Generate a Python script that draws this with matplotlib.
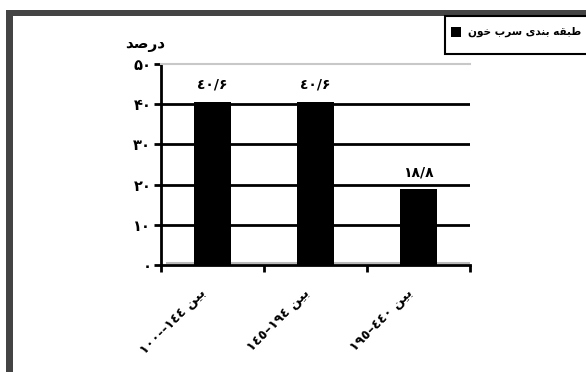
import matplotlib
matplotlib.use("Agg")
import matplotlib.pyplot as plt
from matplotlib.patches import Rectangle

# --- data ---
categories = ["١٠٠--١٤٤", "١٤٥–١٩٤", "١٩٥–٤٤٠"]   # visual order of the ranges
values = [40.6, 40.6, 18.8]
value_labels = ["٤٠/۶", "٤٠/۶", "۱۸/۸"]
yticks = [0, 10, 20, 30, 40, 50]
ytick_labels = ["۰", "۱۰", "۲۰", "۳۰", "۴۰", "۵۰"]
ylabel_text = "درصد"
legend_text = "طبقه بندی سرب خون"
range_word = "بین"

# minimal arabic shaping (matplotlib does not join letters or do RTL)
FORMS = {
    "ب": ("\uFE8F", "\uFE90", "\uFE91", "\uFE92"),
    "خ": ("\uFEA5", "\uFEA6", "\uFEA7", "\uFEA8"),
    "د": ("\uFEA9", "\uFEAA"),
    "ر": ("\uFEAD", "\uFEAE"),
    "س": ("\uFEB1", "\uFEB2", "\uFEB3", "\uFEB4"),
    "ص": ("\uFEB9", "\uFEBA", "\uFEBB", "\uFEBC"),
    "ط": ("\uFEC1", "\uFEC2", "\uFEC3", "\uFEC4"),
    "ق": ("\uFED5", "\uFED6", "\uFED7", "\uFED8"),
    "ن": ("\uFEE5", "\uFEE6", "\uFEE7", "\uFEE8"),
    "ه": ("\uFEE9", "\uFEEA", "\uFEEB", "\uFEEC"),
    "و": ("\uFEED", "\uFEEE"),
    "ی": ("\uFEEF", "\uFEF0", "\uFEF3", "\uFEF4"),
}


def rtl(s):
    out = []
    for i, ch in enumerate(s):
        if ch not in FORMS:
            out.append(ch)
            continue
        f = FORMS[ch]
        prev = i > 0 and s[i - 1] in FORMS and len(FORMS[s[i - 1]]) == 4
        nxt = i < len(s) - 1 and s[i + 1] in FORMS
        if len(f) == 2:
            out.append(f[1] if prev else f[0])
        elif prev and nxt:
            out.append(f[3])
        elif prev:
            out.append(f[1])
        elif nxt:
            out.append(f[2])
        else:
            out.append(f[0])
    return "".join(out)[::-1]


plt.rcParams["font.family"] = ["DejaVu Sans"]
plt.rcParams["font.weight"] = "bold"

fig = plt.figure(figsize=(5.86, 3.72), dpi=100)
W, H = 586, 372

ax = fig.add_axes([161 / W, 1 - 265 / H, 309 / W, 201 / H])

x = list(range(len(values)))
ax.bar(x, values, width=0.35, color="black", zorder=3)

for i, v in enumerate(values):
    ax.text(i, v + 4.3, value_labels[i], ha="center", va="center", fontsize=10, fontweight="bold")

ax.set_xlim(-0.5, 2.5)
ax.set_ylim(0, 50)
ax.set_yticks(yticks)
ax.set_yticklabels(ytick_labels, fontsize=10.5, fontweight="bold")
for yv in yticks[1:-1]:
    ax.axhline(yv, color="black", lw=2, zorder=1)
ax.axhline(0.6, xmin=0.02, color="#bbbbbb", lw=1.5, zorder=1)

ax.set_xticks([-0.5, 0.5, 1.5, 2.5])
ax.set_xticklabels([])
ax.tick_params(axis="both", direction="out", width=2, length=5, color="black")
ax.tick_params(axis="y", pad=2)

for i, c in enumerate(categories):
    ax.annotate(c + " " + rtl(range_word), xy=(i, 0), xycoords="data",
                xytext=(-6, -19), textcoords="offset points",
                rotation=45, rotation_mode="anchor", ha="right", va="center",
                fontsize=9.5, fontweight="bold", annotation_clip=False)

ax.spines["left"].set_linewidth(2)
ax.spines["bottom"].set_linewidth(2)
ax.spines["top"].set_color("#c8c8c8")
ax.spines["top"].set_linewidth(1.5)
ax.spines["right"].set_visible(False)

fig.text(145 / W, 1 - 45 / H, rtl(ylabel_text), ha="center", va="center",
         fontsize=11, fontweight="bold")

# outer frame strips
fig.patches.append(Rectangle((6 / W, 0), 7 / W, 1 - 10 / H, transform=fig.transFigure,
                             facecolor="#444444", edgecolor="none"))
fig.patches.append(Rectangle((6 / W, 1 - 16 / H), 1, 6 / H, transform=fig.transFigure,
                             facecolor="#444444", edgecolor="none"))

# legend box
fig.patches.append(Rectangle((445 / W, 1 - 54 / H), 150 / W, 38 / H, transform=fig.transFigure,
                             facecolor="white", edgecolor="black", lw=1.5))
fig.patches.append(Rectangle((451 / W, 1 - 37 / H), 10 / W, 10 / H, transform=fig.transFigure,
                             facecolor="black", edgecolor="none"))
fig.text(581 / W, 1 - 32 / H, rtl(legend_text), ha="right", va="center",
         fontsize=7.6, fontweight="bold")

fig.savefig("out.png", dpi=100)
